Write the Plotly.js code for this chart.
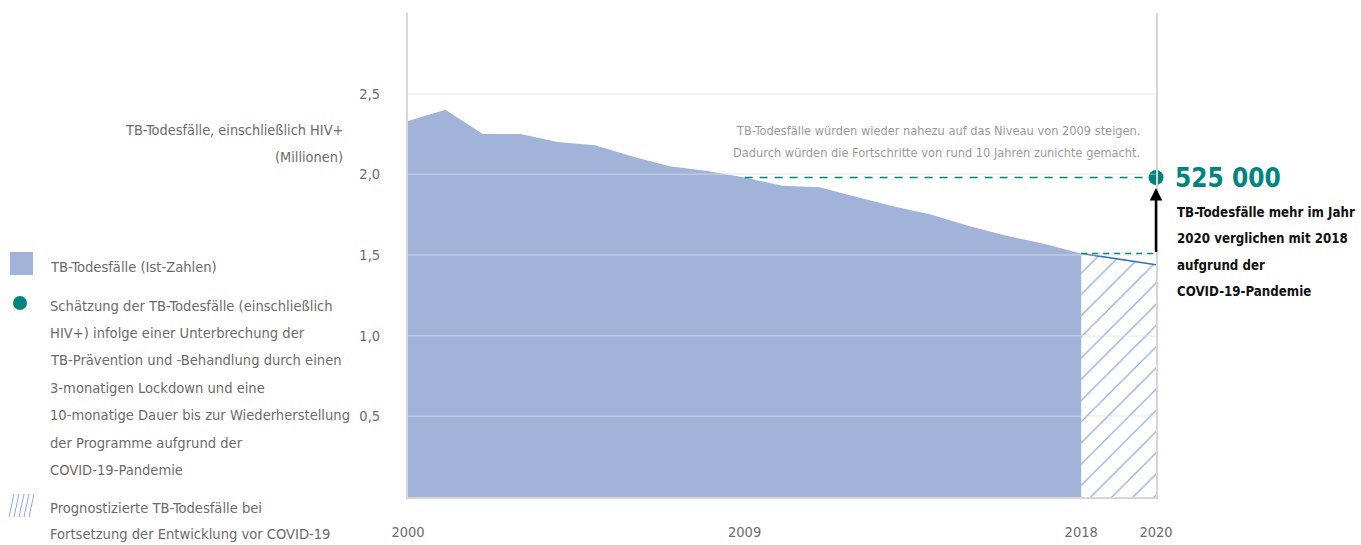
<!DOCTYPE html>
<html><head><meta charset="utf-8">
<script src="https://cdn.plot.ly/plotly-3.0.1.min.js"></script>
<style>html,body{margin:0;padding:0;background:#fff}#chart{width:1361px;height:545px}</style>
</head><body><div id="chart"></div><script>
// ---- data ----
const years = [2000,2001,2002,2003,2004,2005,2006,2007,2008,2009,2010,2011,2012,2013,2014,2015,2016,2017,2018];
const tbDeaths = [2.33,2.40,2.25,2.25,2.20,2.18,2.11,2.05,2.02,1.98,1.93,1.92,1.86,1.80,1.75,1.68,1.62,1.57,1.51];
const projYears = [2018,2019,2020];
const projDeaths = [1.51,1.475,1.44];
const covidYear = 2020;
const covidEstimate = 1.98;
const levelYear = 2009;
const xTickVals = [2000,2009,2018,2020];
const yTickVals = [0.5,1,1.5,2,2.5,3];
const yTickText = ['0,5','1,0','1,5','2,0','2,5',''];
const yTitleLines = ['TB-Todesfälle, einschließlich HIV+','(Millionen)'];
const noteLines = ['TB-Todesfälle würden wieder nahezu auf das Niveau von 2009 steigen.','Dadurch würden die Fortschritte von rund 10 Jahren zunichte gemacht.'];
const excessValue = '525 000';
const excessLines = ['TB-Todesfälle mehr im Jahr','2020 verglichen mit 2018','aufgrund der','COVID-19-Pandemie'];
const legendActual = ['TB-Todesfälle (Ist-Zahlen)'];
const legendCovid = ['Schätzung der TB-Todesfälle (einschließlich','HIV+) infolge einer Unterbrechung der','TB-Prävention und -Behandlung durch einen','3-monatigen Lockdown und eine','10-monatige Dauer bis zur Wiederherstellung','der Programme aufgrund der','COVID-19-Pandemie'];
const legendProj = ['Prognostizierte TB-Todesfälle bei','Fortsetzung der Entwicklung vor COVID-19'];

// ---- styles ----
const F = '"DejaVu Sans Condensed", "Liberation Sans Narrow", sans-serif';
const AREA = '#a2b3d9', TEAL = '#00857d', GREY = '#6b6b6b';
const PL = 408, PR = 1156, PT = 13, PB = 497;
const px = x => (x - PL) / (PR - PL);
const py = y => (PB - y) / (PB - PT);

const annotations = [];
function txt(lines, xpix, y0, step, anchor, size, color, bold) {
  lines.forEach((t, i) => annotations.push({
    xref:'paper', yref:'paper', x:px(xpix), y:py(y0 + i*step), xanchor:anchor, yanchor:'middle',
    text: bold ? '<b>'+t+'</b>' : t, showarrow:false, borderpad:0,
    font:{family:F, size:size, color:color}
  }));
}
txt(yTitleLines, 344, 130, 27, 'right', 14.4, GREY);
txt(noteLines, 1141, 130, 22, 'right', 12.7, '#9a9a9a');
txt([excessValue], 1174, 178, 0, 'left', 26, TEAL, true);
txt(excessLines, 1176, 212, 26.6, 'left', 13.2, '#111', true);
txt(legendActual, 49, 266, 0, 'left', 14.6, GREY);
txt(legendCovid, 49, 305, 27.4, 'left', 14.6, GREY);
txt(legendProj, 49, 507, 26.5, 'left', 14.6, GREY);

// arrow
annotations.push({xref:'x', yref:'y', axref:'x', ayref:'y', x:covidYear, y:covidEstimate-0.065,
  ax:covidYear, ay:projDeaths[0], showarrow:true, arrowhead:2, arrowsize:1, arrowwidth:2.5,
  arrowcolor:'#000', text:'', standoff:0, startstandoff:0});

const shapes = [];
// gridline highlight above traces
yTickVals.forEach(v => shapes.push({type:'line', xref:'paper', yref:'y', x0:0, x1:1, y0:v, y1:v,
  layer:'above', line:{color:'rgba(255,255,255,0.3)', width:1.5}}));
// legend icons
shapes.push({type:'rect', xref:'paper', yref:'paper', x0:px(10), x1:px(33), y0:py(252), y1:py(275),
  fillcolor:AREA, line:{width:0}});
shapes.push({type:'circle', xref:'paper', yref:'paper', x0:px(13), x1:px(27), y0:py(296), y1:py(310),
  fillcolor:TEAL, line:{width:0}});
[9,14,19,24,29].forEach(x => shapes.push({type:'line', xref:'paper', yref:'paper',
  x0:px(x), x1:px(x+5), y0:py(517), y1:py(494), line:{color:'#8ea8dc', width:1}}));

const traces = [
  {x:years, y:tbDeaths, type:'scatter', mode:'lines', fill:'tozeroy', fillcolor:AREA,
   line:{width:0, color:AREA}, hoverinfo:'skip'},
  {x:projYears, y:projDeaths, type:'scatter', mode:'lines', fill:'tozeroy', fillcolor:'rgba(0,0,0,0)',
   fillpattern:{shape:'/', fgcolor:'#8ea8dc', bgcolor:'rgba(0,0,0,0)', size:15, solidity:0.08},
   line:{width:1.5, color:'#2e72bd'}},
  {x:[levelYear, covidYear], y:[covidEstimate, covidEstimate], type:'scatter', mode:'lines',
   line:{color:TEAL, width:1.5, dash:'8px,7px'}},
  {x:[projYears[0], covidYear], y:[projDeaths[0], projDeaths[0]], type:'scatter', mode:'lines',
   line:{color:TEAL, width:1.5, dash:'6px,5px'}},
  {x:[covidYear], y:[covidEstimate], type:'scatter', mode:'markers', cliponaxis:false,
   marker:{color:TEAL, size:15}}
];

const layout = {
  width:1361, height:545, showlegend:false, separators:', ',
  margin:{l:PL, r:1361-PR, t:PT, b:545-PB},
  paper_bgcolor:'#fff', plot_bgcolor:'#fff',
  font:{family:F, size:14.5, color:GREY},
  xaxis:{range:[2000,2020], tickvals:xTickVals, ticktext:xTickVals.map(String), showgrid:false,
    zeroline:false, showline:true, linecolor:'#d6d6d6', linewidth:2, ticks:'outside', ticklen:21,
    tickcolor:'rgba(0,0,0,0)', tickfont:{family:F, size:14.5, color:GREY}},
  yaxis:{range:[0,3], tickvals:yTickVals, ticktext:yTickText, showgrid:true, gridcolor:'#f0f0f0',
    gridwidth:2, zeroline:false, showline:true, mirror:true, linecolor:'#d6d6d6', linewidth:2,
    ticks:'outside', ticklen:23, tickcolor:'rgba(0,0,0,0)', tickfont:{family:F, size:14.5, color:GREY}},
  annotations, shapes
};
Plotly.newPlot('chart', traces, layout, {displayModeBar:false, staticPlot:true});
</script></body></html>
